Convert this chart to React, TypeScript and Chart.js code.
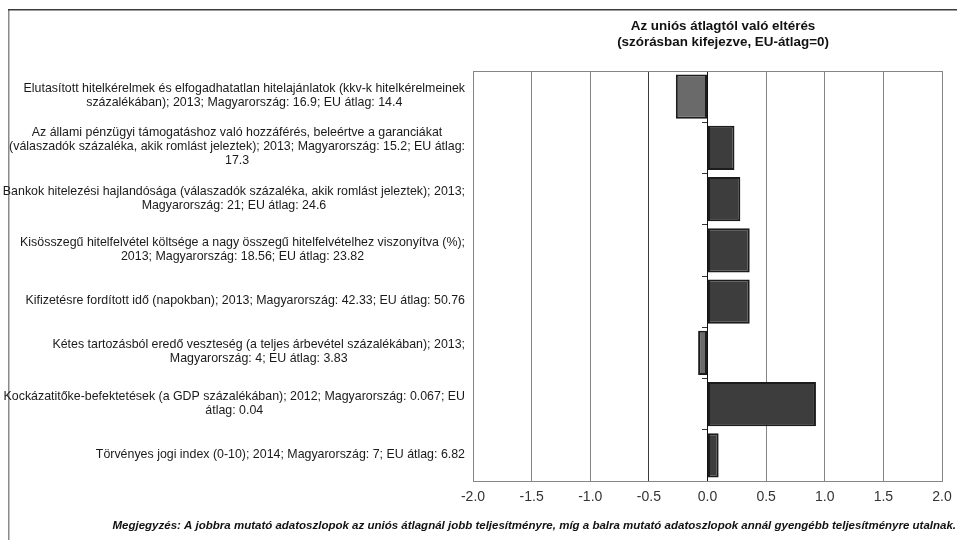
import { useEffect, useRef } from "react";
import { Chart, registerables } from "chart.js";

Chart.register(...registerables);

// Indicator descriptions (one entry per bar, already wrapped into lines)
const categories: string[][] = [
  [
    "Elutasított hitelkérelmek és elfogadhatatlan hitelajánlatok (kkv-k hitelkérelmeinek",
    "százalékában); 2013; Magyarország: 16.9; EU átlag: 14.4",
  ],
  [
    "Az állami pénzügyi támogatáshoz való hozzáférés, beleértve a garanciákat",
    "(válaszadók százaléka, akik romlást jeleztek); 2013; Magyarország: 15.2; EU átlag:",
    "17.3",
  ],
  [
    "Bankok hitelezési hajlandósága (válaszadók százaléka, akik romlást jeleztek); 2013;",
    "Magyarország: 21; EU átlag: 24.6",
  ],
  [
    "Kisösszegű hitelfelvétel költsége a nagy összegű hitelfelvételhez viszonyítva (%);",
    "2013; Magyarország: 18.56; EU átlag: 23.82",
  ],
  ["Kifizetésre fordított idő (napokban); 2013; Magyarország: 42.33; EU átlag: 50.76"],
  [
    "Kétes tartozásból eredő veszteség (a teljes árbevétel százalékában); 2013;",
    "Magyarország: 4; EU átlag: 3.83",
  ],
  [
    "Kockázatitőke-befektetések (a GDP százalékában); 2012; Magyarország: 0.067; EU",
    "átlag: 0.04",
  ],
  ["Törvényes jogi index (0-10); 2014; Magyarország: 7; EU átlag: 6.82"],
];

// Deviation from the EU average, in standard deviations
const deviations: number[] = [-0.27, 0.23, 0.28, 0.36, 0.36, -0.08, 0.925, 0.095];

// Value axis range and ticks
const xMin = -2;
const xMax = 2;
const xStep = 0.5;

const titleLines: string[] = [
  "Az uniós átlagtól való eltérés",
  "(szórásban kifejezve, EU-átlag=0)",
];

const footnote =
  "Megjegyzés: A jobbra mutató adatoszlopok az uniós átlagnál jobb teljesítményre, míg a balra mutató adatoszlopok annál gyengébb teljesítményre utalnak.";

const FONT = "'Liberation Sans', Arial, sans-serif";
const LABEL_FONT = `12.4px ${FONT}`;
const LABEL_LINE = 14;

const decorations = {
  id: "decorations",
  beforeDraw(chart: any) {
    const { ctx, width, height } = chart;
    ctx.save();
    ctx.fillStyle = "#ffffff";
    ctx.fillRect(0, 0, width, height);
    // outer frame (top and left edges)
    ctx.strokeStyle = "#8a8a8a";
    ctx.lineWidth = 1.5;
    ctx.beginPath();
    ctx.moveTo(8.75, 10);
    ctx.lineTo(8.75, height);
    ctx.stroke();
    ctx.strokeStyle = "#3a3a3a";
    ctx.beginPath();
    ctx.moveTo(8, 9.75);
    ctx.lineTo(width, 9.75);
    ctx.stroke();
    ctx.restore();
  },
  afterDraw(chart: any) {
    const { ctx, chartArea } = chart;
    const yScale = chart.scales.y;
    ctx.save();

    // plot area frame
    ctx.strokeStyle = "#858585";
    ctx.lineWidth = 1;
    ctx.strokeRect(
      Math.round(chartArea.left) + 0.5,
      Math.round(chartArea.top) + 0.5,
      Math.round(chartArea.right - chartArea.left),
      Math.round(chartArea.bottom - chartArea.top)
    );

    // category labels: each block centred on its own widest line, right-aligned to the plot
    ctx.font = LABEL_FONT;
    ctx.fillStyle = "#1a1a1a";
    ctx.textBaseline = "middle";
    ctx.textAlign = "center";
    const right = chartArea.left - 8;
    categories.forEach((lines, i) => {
      const cy = yScale.getPixelForTick(i);
      const w = Math.max(...lines.map((l) => ctx.measureText(l).width));
      const cx = right - w / 2;
      lines.forEach((l, j) => {
        ctx.fillText(l, cx, cy + (j - (lines.length - 1) / 2) * LABEL_LINE - 1);
      });
    });

    // title
    ctx.font = `bold 13.4px ${FONT}`;
    ctx.fillStyle = "#111111";
    ctx.textBaseline = "alphabetic";
    titleLines.forEach((t, i) => ctx.fillText(t, 723, 30 + i * 16));

    // footnote
    ctx.font = `italic bold 11.5px ${FONT}`;
    ctx.textAlign = "right";
    ctx.textBaseline = "middle";
    ctx.fillText(footnote, 956, 526);

    ctx.restore();
  },
};

export default function App() {
  const canvasRef = useRef<HTMLCanvasElement | null>(null);

  useEffect(() => {
    const canvas = canvasRef.current;
    if (!canvas) return;

    const chart = new Chart(canvas, {
      type: "bar",
      data: {
        labels: categories.map((c) => c.join(" ")),
        datasets: [
          {
            data: deviations,
            backgroundColor: deviations.map((v) => (v < 0 ? "#6a6a6a" : "#3d3d3d")),
            borderColor: "#1c1c1c",
            borderWidth: 2,
            borderSkipped: false,
            categoryPercentage: 0.86,
            barPercentage: 1,
          },
        ],
      },
      plugins: [decorations],
      options: {
        indexAxis: "y",
        responsive: false,
        animation: false,
        events: [],
        layout: { padding: { left: 0, top: 71, right: 15, bottom: 0 } },
        plugins: {
          legend: { display: false },
          title: { display: false },
          tooltip: { enabled: false },
        },
        scales: {
          x: {
            type: "linear",
            min: xMin,
            max: xMax,
            afterFit: (scale: any) => {
              scale.height = 59;
              scale.paddingLeft = 0;
              scale.paddingRight = 0;
            },
            ticks: {
              stepSize: xStep,
              padding: 8,
              color: "#333333",
              font: { family: FONT, size: 14 },
              callback: (v: any) => Number(v).toFixed(1),
            },
            grid: {
              drawTicks: false,
              color: (c: any) => (c.tick && Math.abs(c.tick.value + 0.5) < 1e-9 ? "#3a3a3a" : "#858585"),
            },
            border: { color: "#858585" },
          },
          y: {
            type: "category",
            position: "left",
            offset: true,
            afterFit: (scale: any) => {
              scale.width = 473;
            },
            ticks: { display: false },
            grid: { display: false },
            border: { display: false },
          },
          yZero: {
            type: "category",
            axis: "y",
            position: { x: 0 },
            offset: true,
            ticks: { display: false },
            grid: {
              offset: true,
              drawOnChartArea: false,
              drawTicks: true,
              tickLength: 5,
              color: "#333333",
            },
            border: { display: true, color: "#111111", width: 1 },
          },
        },
      } as any,
    });

    return () => chart.destroy();
  }, []);

  return (
    <canvas
      ref={canvasRef}
      width={957}
      height={540}
      style={{ position: "absolute", left: 0, top: 0, width: 957, height: 540 }}
    />
  );
}
